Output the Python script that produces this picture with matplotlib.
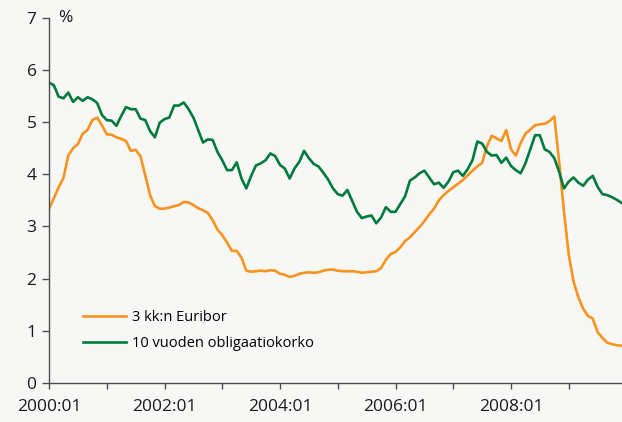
import numpy as np
import matplotlib
matplotlib.use("Agg")
import matplotlib.pyplot as plt

plt.rcParams["font.family"] = ["Open Sans", "DejaVu Sans"]

# monthly data 2000:01 - 2009:12
euribor = [
    3.34, 3.54, 3.75, 3.93, 4.36, 4.50, 4.58, 4.78, 4.85, 5.04, 5.09, 4.94,
    4.77, 4.76, 4.71, 4.68, 4.64, 4.45, 4.47, 4.35, 3.98, 3.60, 3.39, 3.34,
    3.34, 3.36, 3.39, 3.41, 3.47, 3.46, 3.41, 3.35, 3.31, 3.26, 3.12, 2.94,
    2.83, 2.69, 2.53, 2.53, 2.40, 2.15, 2.13, 2.14, 2.15, 2.14, 2.16, 2.15,
    2.09, 2.07, 2.03, 2.05, 2.09, 2.11, 2.12, 2.11, 2.12, 2.15, 2.17, 2.17,
    2.15, 2.14, 2.14, 2.14, 2.13, 2.11, 2.12, 2.13, 2.14, 2.20, 2.36, 2.47,
    2.51, 2.60, 2.72, 2.79, 2.89, 2.99, 3.10, 3.23, 3.34, 3.50, 3.60, 3.68,
    3.75, 3.82, 3.89, 3.98, 4.07, 4.15, 4.22, 4.54, 4.74, 4.69, 4.64, 4.85,
    4.48, 4.36, 4.60, 4.78, 4.86, 4.94, 4.96, 4.97, 5.02, 5.11, 4.24, 3.29,
    2.46, 1.94, 1.64, 1.42, 1.28, 1.23, 0.97, 0.86, 0.77, 0.74, 0.72, 0.71,
]

bond10 = [
    5.76, 5.71, 5.49, 5.46, 5.57, 5.39, 5.48, 5.41, 5.48, 5.44, 5.37, 5.14,
    5.04, 5.03, 4.93, 5.12, 5.29, 5.25, 5.25, 5.07, 5.04, 4.83, 4.71, 4.99,
    5.06, 5.09, 5.32, 5.32, 5.38, 5.25, 5.09, 4.85, 4.61, 4.67, 4.66, 4.43,
    4.27, 4.08, 4.08, 4.23, 3.92, 3.73, 3.97, 4.17, 4.21, 4.27, 4.40, 4.35,
    4.18, 4.11, 3.92, 4.11, 4.24, 4.45, 4.31, 4.20, 4.15, 4.03, 3.90, 3.73,
    3.62, 3.59, 3.70, 3.49, 3.28, 3.16, 3.19, 3.21, 3.06, 3.17, 3.37, 3.28,
    3.28, 3.43, 3.58, 3.88, 3.94, 4.02, 4.07, 3.94, 3.81, 3.84, 3.74, 3.86,
    4.04, 4.07, 3.97, 4.10, 4.27, 4.63, 4.59, 4.43, 4.36, 4.37, 4.22, 4.32,
    4.16, 4.08, 4.02, 4.21, 4.48, 4.75, 4.75, 4.48, 4.43, 4.31, 4.05, 3.73,
    3.86, 3.94, 3.84, 3.78, 3.90, 3.97, 3.76, 3.62, 3.60, 3.56, 3.51, 3.45,
]

xlabels = ["2000:01", "2002:01", "2004:01", "2006:01", "2008:01"]

bg = "#f7f7f5"
orange = "#f7931e"
green = "#007a3d"
axcol = "#4d4d4d"

months = np.arange(len(euribor))

fig = plt.figure(figsize=(6.22, 4.22), dpi=100, facecolor=bg)
ax = fig.add_axes([0.0788, 0.0931, 0.9207, 0.8642], facecolor=bg)

ax.plot(months, euribor, color=orange, lw=1.9, label="3 kk:n Euribor",
        solid_joinstyle="round")
ax.plot(months, bond10, color=green, lw=1.9, label="10 vuoden obligaatiokorko",
        solid_joinstyle="round")

ax.set_xlim(0, len(euribor) - 1)
ax.set_ylim(0, 7)
ax.set_yticks(range(0, 8))
ax.set_xticks(np.arange(0, 120, 12))
ax.set_xticklabels([xlabels[i // 2] if i % 2 == 0 else "" for i in range(10)])

for s in ["top", "right"]:
    ax.spines[s].set_visible(False)
for s in ["left", "bottom"]:
    ax.spines[s].set_color(axcol)
    ax.spines[s].set_linewidth(1.0)

ax.tick_params(axis="y", direction="out", length=5, width=1, color=axcol,
               labelsize=12.5, pad=4, labelcolor="#1a1a1a")
ax.tick_params(axis="x", direction="out", length=4, width=1, color=axcol,
               labelsize=12.5, pad=8, labelcolor="#1a1a1a")

ax.text(0.016, 1.0, "%", transform=ax.transAxes, fontsize=12.5,
        va="center", ha="left", color="#1a1a1a")

ax.legend(loc="upper left", bbox_to_anchor=(0.05, 0.215), frameon=False,
          fontsize=10.5, handlelength=2.9, handletextpad=0.45,
          labelspacing=0.75, borderaxespad=0)

fig.savefig("out.png", dpi=100, facecolor=bg)
